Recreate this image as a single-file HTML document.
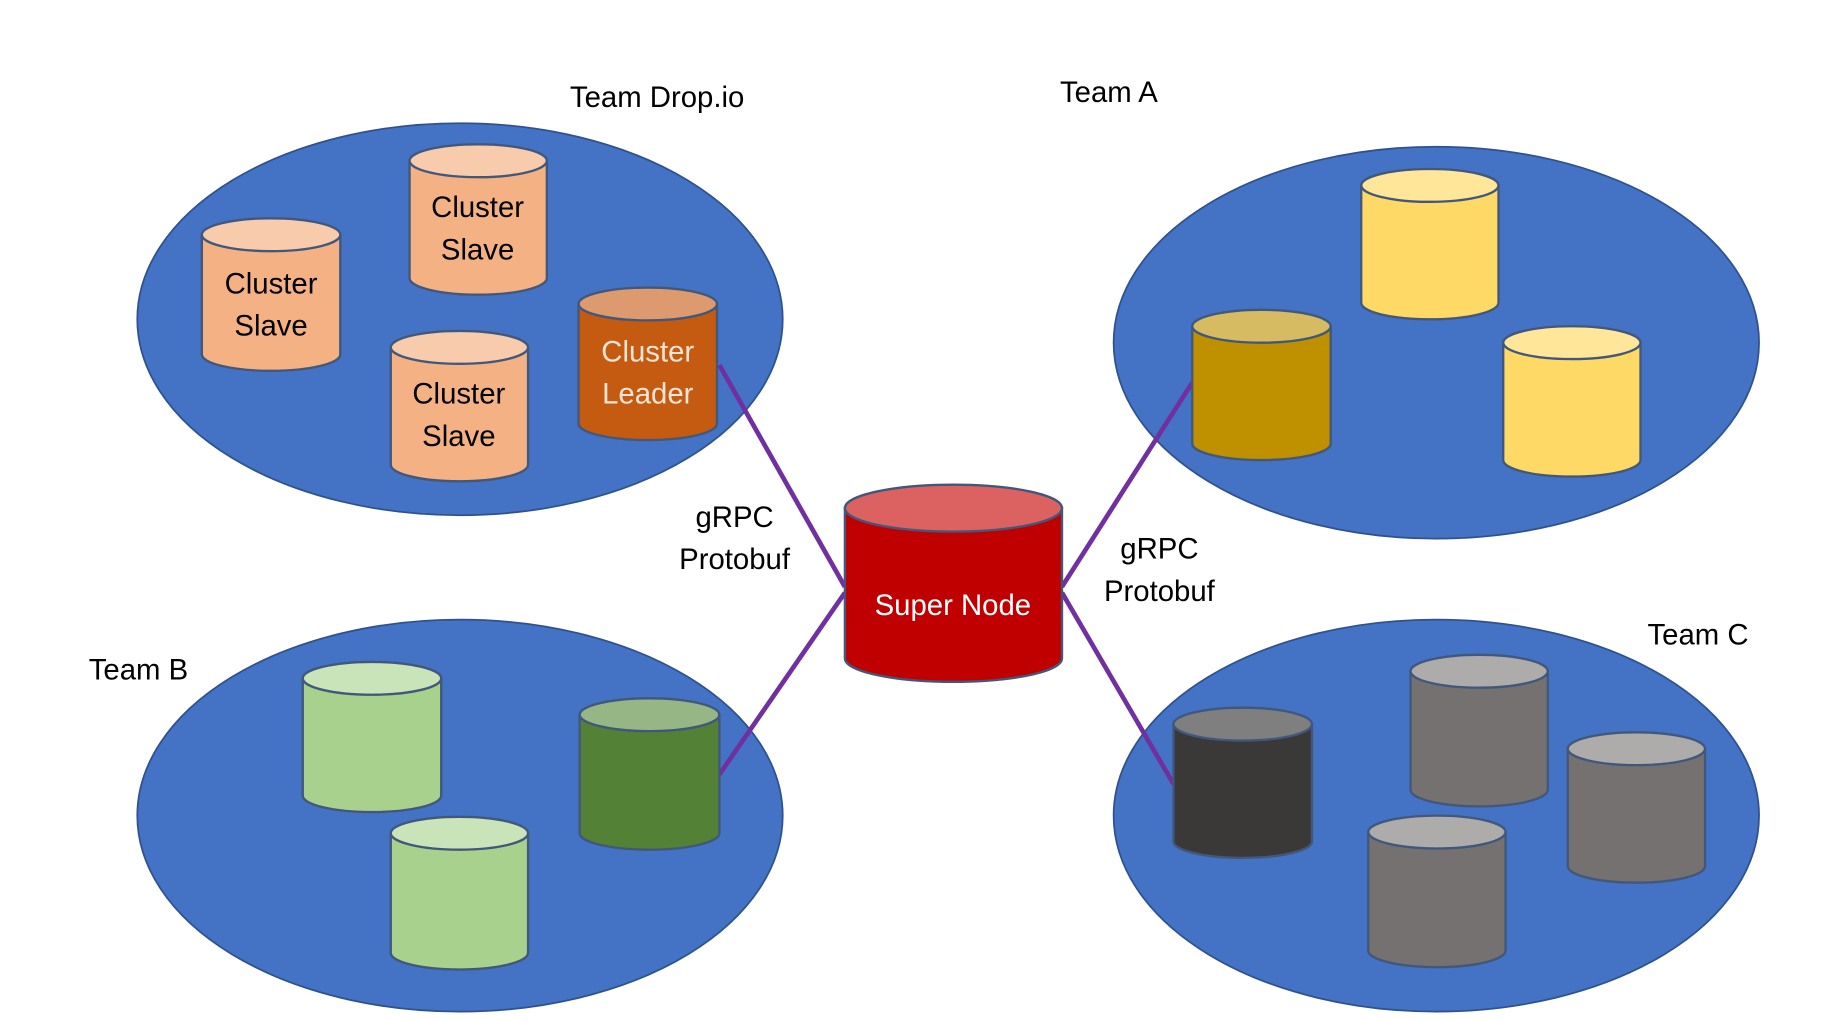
<!DOCTYPE html>
<html><head><meta charset="utf-8"><style>
html,body{margin:0;padding:0;background:#fff;}
svg{display:block;}
text{font-family:"Liberation Sans",sans-serif;}
</style></head><body>
<svg width="1840" height="1021" viewBox="0 0 1568 870" preserveAspectRatio="none" xmlns="http://www.w3.org/2000/svg">
<g fill="#4472c4" stroke="#2f528f" stroke-width="1.5">
<ellipse cx="392" cy="272" rx="275" ry="167"/>
<ellipse cx="1224" cy="292" rx="275" ry="167"/>
<ellipse cx="392" cy="695" rx="275" ry="167"/>
<ellipse cx="1224" cy="695" rx="275" ry="167"/>
</g>
<g stroke="#7030a0" stroke-width="4" fill="none">
<line x1="613" y1="311" x2="720" y2="500"/>
<line x1="613" y1="660" x2="720" y2="505"/>
<line x1="905" y1="500" x2="1016" y2="326"/>
<line x1="905" y1="505" x2="1000" y2="668"/>
</g>
<g stroke="#41587a" stroke-width="2">
<path d="M172 200 v102 a59 14 0 0 0 118 0 v-102 z" fill="#f4b183"/><ellipse cx="231" cy="200" rx="59" ry="14" fill="#f8cbad"/>
<path d="M349 137 v100 a58 14 0 0 0 117 0 v-100 z" fill="#f4b183"/><ellipse cx="407.5" cy="137" rx="58.5" ry="14" fill="#f8cbad"/>
<path d="M333 296 v100 a58 14 0 0 0 117 0 v-100 z" fill="#f4b183"/><ellipse cx="391.5" cy="296" rx="58.5" ry="14" fill="#f8cbad"/>
<path d="M493 259 v102 a59 14 0 0 0 118 0 v-102 z" fill="#c55a11"/><ellipse cx="552" cy="259" rx="59" ry="14" fill="#dc9a6e"/>
<path d="M720 433 v128 a92.5 20 0 0 0 185 0 v-128 z" fill="#c00000"/><ellipse cx="812.5" cy="433" rx="92.5" ry="20" fill="#dc6262"/>
<path d="M1160 158 v100 a58 14 0 0 0 117 0 v-100 z" fill="#ffd966"/><ellipse cx="1218.5" cy="158" rx="58.5" ry="14" fill="#ffe699"/>
<path d="M1016 278 v100 a59 14 0 0 0 118 0 v-100 z" fill="#bf9000"/><ellipse cx="1075" cy="278" rx="59" ry="14" fill="#d6bb63"/>
<path d="M1281 292 v100 a58 14 0 0 0 117 0 v-100 z" fill="#ffd966"/><ellipse cx="1339.5" cy="292" rx="58.5" ry="14" fill="#ffe699"/>
<path d="M258 578 v100 a59 14 0 0 0 118 0 v-100 z" fill="#a9d18e"/><ellipse cx="317" cy="578" rx="59" ry="14" fill="#c9e4b8"/>
<path d="M494 609 v101 a59.5 14 0 0 0 119 0 v-101 z" fill="#538135"/><ellipse cx="553.5" cy="609" rx="59.5" ry="14" fill="#97b685"/>
<path d="M333 710 v102 a58 14 0 0 0 117 0 v-102 z" fill="#a9d18e"/><ellipse cx="391.5" cy="710" rx="58.5" ry="14" fill="#c9e4b8"/>
<path d="M1000 617 v100 a59 14 0 0 0 118 0 v-100 z" fill="#3b3838"/><ellipse cx="1059" cy="617" rx="59" ry="14" fill="#7f7f7f"/>
<path d="M1202 572 v101 a58 14 0 0 0 117 0 v-101 z" fill="#767171"/><ellipse cx="1260.5" cy="572" rx="58.5" ry="14" fill="#aeabab"/>
<path d="M1336 638 v100 a58 14 0 0 0 117 0 v-100 z" fill="#767171"/><ellipse cx="1394.5" cy="638" rx="58.5" ry="14" fill="#aeabab"/>
<path d="M1166 709 v101 a58 14 0 0 0 117 0 v-101 z" fill="#767171"/><ellipse cx="1224.5" cy="709" rx="58.5" ry="14" fill="#aeabab"/>
</g>
<g font-size="25" text-anchor="middle" fill="#000">
<text x="560" y="91">Team Drop.io</text>
<text x="945" y="87">Team A</text>
<text x="118" y="579">Team B</text>
<text x="1447" y="549">Team C</text>
<text x="626" y="449">gRPC</text>
<text x="626" y="485">Protobuf</text>
<text x="988" y="476">gRPC</text>
<text x="988" y="512">Protobuf</text>
<text x="231" y="250">Cluster</text>
<text x="231" y="286">Slave</text>
<text x="407" y="185">Cluster</text>
<text x="407" y="221">Slave</text>
<text x="391" y="344">Cluster</text>
<text x="391" y="380">Slave</text>
</g>
<g font-size="25" text-anchor="middle" fill="#fbe5d6">
<text x="552" y="308">Cluster</text>
<text x="552" y="344">Leader</text>
<text x="812" y="524" fill="#fff">Super Node</text>
</g>
</svg>
</body></html>
